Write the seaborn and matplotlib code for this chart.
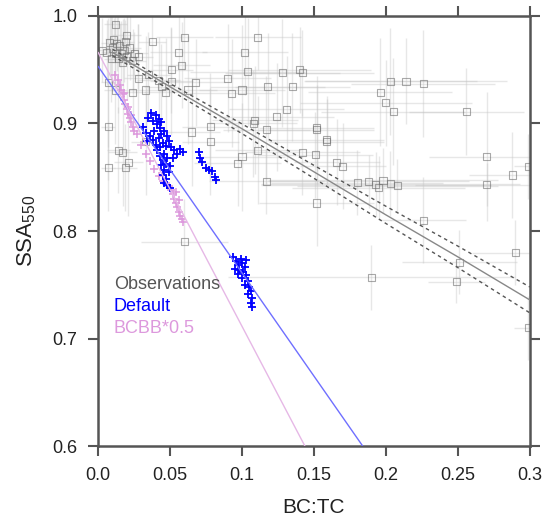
import numpy as np
import pandas as pd
import seaborn as sns
import matplotlib
matplotlib.use("Agg")
import matplotlib.pyplot as plt

# observations: BC:TC, SSA550 and their uncertainties
obs_x = [0.008, 0.010, 0.012, 0.015, 0.018, 0.020, 0.014, 0.022, 0.025, 0.006,
         0.011, 0.017, 0.024, 0.009, 0.028, 0.013, 0.019, 0.016,
         0.003, 0.007, 0.012, 0.024, 0.033, 0.044, 0.051, 0.0625, 0.051, 0.058,
         0.056, 0.0375, 0.060, 0.020, 0.012, 0.035, 0.042, 0.028, 0.047, 0.068,
         0.090, 0.104, 0.102, 0.111, 0.128, 0.140, 0.142, 0.135, 0.118, 0.100,
         0.093, 0.131, 0.124, 0.109, 0.111, 0.100, 0.142, 0.151, 0.078, 0.065,
         0.007, 0.017, 0.007, 0.021, 0.033, 0.014, 0.019, 0.097, 0.078, 0.159,
         0.152, 0.108, 0.117, 0.117, 0.152, 0.060,
         0.203, 0.214, 0.226, 0.196, 0.200, 0.205, 0.256, 0.152, 0.159, 0.166,
         0.170, 0.270, 0.288, 0.299,
         0.180, 0.188, 0.193, 0.198, 0.203, 0.208, 0.195,
         0.270, 0.226, 0.251, 0.290, 0.190, 0.249, 0.299]
obs_y = [0.975, 0.970, 0.965, 0.972, 0.968, 0.962, 0.960, 0.970, 0.965, 0.966,
         0.978, 0.957, 0.958, 0.960, 0.962, 0.974, 0.976, 0.965,
         0.968, 0.938, 0.931, 0.929, 0.931, 0.934, 0.939, 0.931, 0.950, 0.954,
         0.966, 0.976, 0.980, 0.982, 0.992, 0.945, 0.940, 0.942, 0.929, 0.938,
         0.942, 0.948, 0.966, 0.980, 0.947, 0.950, 0.947, 0.934, 0.934, 0.931,
         0.928, 0.913, 0.906, 0.903, 0.875, 0.869, 0.873, 0.871, 0.897, 0.892,
         0.897, 0.873, 0.859, 0.864, 0.883, 0.875, 0.859, 0.863, 0.883, 0.883,
         0.894, 0.900, 0.894, 0.846, 0.826, 0.790,
         0.939, 0.939, 0.937, 0.929, 0.919, 0.911, 0.911, 0.896, 0.885, 0.864,
         0.860, 0.869, 0.852, 0.860,
         0.845, 0.846, 0.843, 0.847, 0.844, 0.842, 0.840,
         0.843, 0.810, 0.771, 0.780, 0.757, 0.753, 0.710]
obs_xerr = [0.006, 0.005, 0.008, 0.007, 0.010, 0.006, 0.005, 0.008, 0.010, 0.004,
            0.006, 0.007, 0.009, 0.005, 0.010, 0.005, 0.006, 0.006,
            0.003, 0.005, 0.008, 0.010, 0.012, 0.012, 0.015, 0.020, 0.015, 0.020,
            0.020, 0.010, 0.020, 0.010, 0.008, 0.015, 0.015, 0.010, 0.015, 0.020,
            0.030, 0.040, 0.030, 0.030, 0.040, 0.050, 0.050, 0.040, 0.040, 0.030,
            0.030, 0.040, 0.040, 0.030, 0.030, 0.030, 0.040, 0.040, 0.020, 0.020,
            0.005, 0.010, 0.005, 0.010, 0.010, 0.008, 0.008, 0.030, 0.020, 0.040,
            0.040, 0.030, 0.030, 0.040, 0.040, 0.030,
            0.060, 0.070, 0.050, 0.050, 0.060, 0.050, 0.040, 0.040, 0.040, 0.030,
            0.030, 0.040, 0.030, 0.010,
            0.060, 0.070, 0.080, 0.080, 0.090, 0.070, 0.060,
            0.050, 0.030, 0.040, 0.030, 0.100, 0.020, 0.010]
obs_yerr = [0.030, 0.040, 0.030, 0.020, 0.030, 0.040, 0.050, 0.030, 0.020, 0.030,
            0.020, 0.040, 0.030, 0.040, 0.030, 0.025, 0.020, 0.030,
            0.030, 0.060, 0.050, 0.040, 0.050, 0.040, 0.050, 0.050, 0.040, 0.040,
            0.035, 0.030, 0.030, 0.020, 0.010, 0.040, 0.040, 0.050, 0.050, 0.040,
            0.050, 0.050, 0.040, 0.030, 0.050, 0.040, 0.040, 0.050, 0.050, 0.060,
            0.050, 0.050, 0.050, 0.050, 0.050, 0.050, 0.040, 0.040, 0.050, 0.050,
            0.050, 0.050, 0.040, 0.050, 0.050, 0.040, 0.040, 0.040, 0.050, 0.040,
            0.050, 0.050, 0.050, 0.030, 0.040, 0.040,
            0.050, 0.040, 0.050, 0.050, 0.040, 0.050, 0.040, 0.040, 0.040, 0.040,
            0.040, 0.060, 0.040, 0.030,
            0.030, 0.025, 0.030, 0.030, 0.030, 0.025, 0.030,
            0.020, 0.040, 0.030, 0.030, 0.030, 0.020, 0.030]

# model: Default run
default_x = [0.031, 0.033, 0.035, 0.037, 0.038, 0.040, 0.041, 0.042, 0.043, 0.044,
             0.039, 0.036, 0.034, 0.038, 0.040, 0.042, 0.044, 0.046, 0.048, 0.041,
             0.043, 0.045, 0.047, 0.049, 0.051, 0.053, 0.055, 0.057, 0.059, 0.043,
             0.045, 0.046, 0.048, 0.044, 0.046, 0.047, 0.049, 0.045, 0.047, 0.048,
             0.050, 0.046, 0.052, 0.050,
             0.070, 0.071, 0.072, 0.075, 0.077, 0.079, 0.081, 0.082,
             0.094, 0.096, 0.097, 0.099, 0.100, 0.098, 0.101, 0.102, 0.103, 0.100,
             0.104, 0.102, 0.105, 0.106, 0.104, 0.107, 0.106, 0.107, 0.095, 0.097,
             0.103]
default_y = [0.897, 0.891, 0.905, 0.910, 0.902, 0.908, 0.899, 0.904, 0.896, 0.901,
             0.893, 0.888, 0.884, 0.885, 0.880, 0.886, 0.890, 0.893, 0.888, 0.875,
             0.878, 0.882, 0.879, 0.884, 0.878, 0.875, 0.872, 0.876, 0.873, 0.870,
             0.866, 0.872, 0.868, 0.861, 0.857, 0.862, 0.855, 0.852, 0.848, 0.843,
             0.840, 0.845, 0.868, 0.860,
             0.873, 0.868, 0.864, 0.859, 0.857, 0.856, 0.850, 0.847,
             0.776, 0.772, 0.768, 0.774, 0.770, 0.764, 0.762, 0.767, 0.759, 0.756,
             0.754, 0.750, 0.748, 0.744, 0.741, 0.738, 0.733, 0.729, 0.765, 0.760,
             0.773]

# model: BCBB*0.5 run
bcbb_x = [0.012, 0.014, 0.015, 0.016, 0.017, 0.018, 0.019, 0.020, 0.021, 0.022,
          0.023, 0.024, 0.025, 0.027, 0.018, 0.021, 0.023, 0.030, 0.033, 0.036,
          0.039, 0.042, 0.045, 0.049, 0.051, 0.052, 0.053, 0.054, 0.055, 0.056,
          0.057, 0.058, 0.059, 0.054, 0.056]
bcbb_y = [0.945, 0.940, 0.936, 0.931, 0.927, 0.922, 0.918, 0.913, 0.909, 0.905,
          0.901, 0.897, 0.893, 0.890, 0.928, 0.915, 0.908, 0.880, 0.872, 0.865,
          0.858, 0.851, 0.846, 0.842, 0.838, 0.834, 0.830, 0.826, 0.822, 0.818,
          0.814, 0.811, 0.808, 0.836, 0.829]

# regression lines
obs_fit_x = [0.01, 0.05, 0.10, 0.15, 0.20, 0.25, 0.30]
obs_fit_y = [0.966, 0.934, 0.895, 0.855, 0.815, 0.776, 0.736]
obs_fit_hi = [0.969, 0.937, 0.8995, 0.861, 0.823, 0.786, 0.748]
obs_fit_lo = [0.963, 0.931, 0.8905, 0.849, 0.807, 0.766, 0.724]
default_fit_x = [0.0, 0.184]
default_fit_y = [0.953, 0.600]
bcbb_fit_x = [0.0, 0.1438]
bcbb_fit_y = [0.966, 0.600]

labels = ["Observations", "Default", "BCBB*0.5"]
label_colors = ["#555555", "#0000ff", "#dd99dd"]

sns.set_theme(style="ticks")
plt.rcParams["font.family"] = ["Liberation Sans", "DejaVu Sans"]
plt.rcParams["mathtext.default"] = "regular"

fig = plt.figure(figsize=(5.45, 5.25), dpi=100)
ax = fig.add_axes([0.180, 0.150, 0.792, 0.820])

obs = pd.DataFrame({"x": obs_x, "y": obs_y})
ax.errorbar(obs_x, obs_y, xerr=obs_xerr, yerr=obs_yerr, fmt="none",
            ecolor="#c4c4c4", elinewidth=1, alpha=0.4, capsize=0, zorder=1)
sns.scatterplot(data=obs, x="x", y="y", marker="s", s=26, facecolor="none",
                edgecolor="#707070", linewidth=0.8, alpha=0.6, ax=ax, zorder=2)

sns.scatterplot(x=bcbb_x, y=bcbb_y, marker="+", s=35, color="#dd99dd",
                linewidth=1.1, ax=ax, zorder=3)
sns.scatterplot(x=default_x, y=default_y, marker="+", s=40, color="#0000ff",
                linewidth=1.3, ax=ax, zorder=4)

sns.lineplot(x=default_fit_x, y=default_fit_y, color="#6f6fff", lw=1,
             estimator=None, sort=False, ax=ax, zorder=5)
sns.lineplot(x=bcbb_fit_x, y=bcbb_fit_y, color="#e6b8e6", lw=1,
             estimator=None, sort=False, ax=ax, zorder=5)
sns.lineplot(x=obs_fit_x, y=obs_fit_y, color="#888888", lw=1,
             estimator=None, sort=False, ax=ax, zorder=6)
for band in (obs_fit_hi, obs_fit_lo):
    sns.lineplot(x=obs_fit_x, y=band, color="#555555", lw=1,
                 linestyle=(0, (2.5, 2.5)), estimator=None, sort=False,
                 ax=ax, zorder=6)

for i, (lab, col) in enumerate(zip(labels, label_colors)):
    ax.text(0.011, 0.750 - 0.0205 * i, lab, color=col, fontsize=13,
            va="center", ha="left", zorder=7)

ax.set_xlim(0, 0.3)
ax.set_ylim(0.6, 1.0)
ax.set_xticks([0, 0.05, 0.1, 0.15, 0.2, 0.25, 0.3])
ax.set_xticklabels(["0.0", "0.05", "0.1", "0.15", "0.2", "0.25", "0.3"])
ax.set_yticks([0.6, 0.7, 0.8, 0.9, 1.0])
ax.set_yticklabels(["0.6", "0.7", "0.8", "0.9", "1.0"])
ax.tick_params(direction="out", length=7, width=1.5, color="#555555",
               labelsize=13, labelcolor="#222222", top=True, right=True, pad=8)
for sp in ax.spines.values():
    sp.set_visible(True)
    sp.set_linewidth(1.8)
    sp.set_color("#555555")

ax.set_xlabel("BC:TC", fontsize=15, color="#222222", labelpad=10)
ax.set_ylabel("SSA$_{550}$", fontsize=16, color="#222222", labelpad=10)

fig.savefig("out.png", dpi=100)
